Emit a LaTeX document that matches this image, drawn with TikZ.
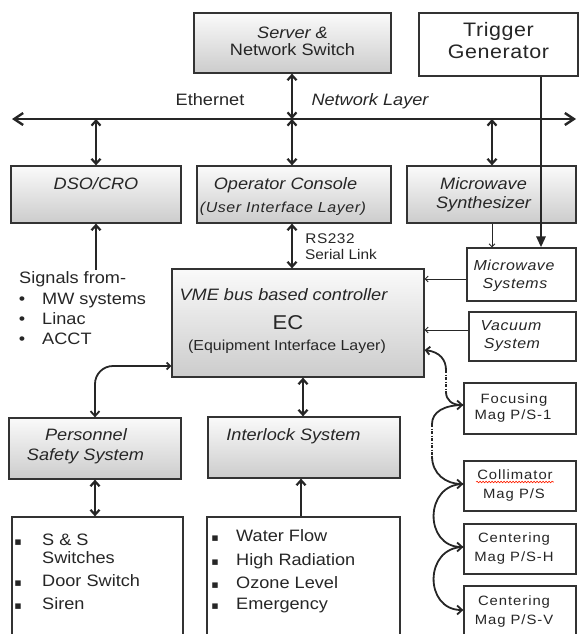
\documentclass[tikz,border=0pt]{standalone}
\usepackage{fontspec}
\setmainfont{Liberation Sans}[FakeStretch=1.1]
\newfontfamily\dejavu{DejaVu Sans}
\usetikzlibrary{arrows.meta,decorations.pathmorphing,calc}
\begin{document}
\begin{tikzpicture}[x=1pt,y=-1pt,
  >={Straight Barb[length=5pt,width=9pt]},
  gbox/.style={draw=black!80, line width=1.2pt, top color=gray!4, bottom color=gray!40, inner sep=0pt},
  wbox/.style={draw=black!80, line width=1.2pt, fill=white, inner sep=0pt},
  txt/.style={inner sep=1pt, anchor=base, text=black!85, font=\fontsize{16.5}{18}\selectfont},
  itxt/.style={txt, font=\fontsize{16.5}{18}\selectfont\itshape},
  stxt/.style={txt, font=\fontsize{14.5}{16}\selectfont},
  sitxt/.style={txt, font=\fontsize{14.5}{16}\selectfont\itshape\addfontfeature{LetterSpace=4}},
  rtxt/.style={txt, font=\fontsize{13.5}{15}\selectfont\addfontfeature{LetterSpace=7}},
  ltxt/.style={txt, anchor=base west},
  bul/.style={inner sep=0pt, anchor=base, text=black!85, font=\dejavu\fontsize{11}{12}\selectfont},
  dbl/.style={draw=black!85, line width=2.2pt, <->},
  sgl/.style={draw=black!85, line width=2.2pt, ->},
  thinarr/.style={draw=black!85, line width=0.9pt, -{Straight Barb[length=3pt,width=6pt]}},
  eth/.style={draw=black!85, line width=2.4pt, {Straight Barb[length=9pt,width=12pt]}-{Straight Barb[length=9pt,width=12pt]}},
  curv/.style={draw=black!85, line width=1.8pt},
  dotseg/.style={draw=black!85, line width=1.8pt, dash pattern=on 3pt off 1.5pt on 1pt off 1.5pt}
]
\useasboundingbox (0,0) rectangle (579,634);
\clip (0,0) rectangle (579,634);

% ---------- boxes ----------
\node[gbox, minimum width=197pt, minimum height=60pt] (server) at (292.5,43) {};
\node[wbox, minimum width=159pt, minimum height=63pt] (trigger) at (498.5,44.5) {};
\node[gbox, minimum width=170pt, minimum height=57pt] (dso) at (96,194.5) {};
\node[gbox, minimum width=194pt, minimum height=57pt] (operator) at (294,194.5) {};
\node[gbox, minimum width=169pt, minimum height=57pt] (mwsynth) at (491.5,194.5) {};
\node[gbox, minimum width=252pt, minimum height=108pt] (ec) at (298,323) {};
\node[wbox, minimum width=109pt, minimum height=53pt] (mwsys) at (521.5,274.5) {};
\node[wbox, minimum width=107pt, minimum height=49pt] (vacuum) at (522.5,336.5) {};
\node[gbox, minimum width=172pt, minimum height=61pt] (personnel) at (95,448.5) {};
\node[gbox, minimum width=192pt, minimum height=61pt] (interlock) at (304,447.5) {};
\node[wbox, minimum width=171pt, minimum height=133pt] (list1) at (97.5,583.5) {};
\node[wbox, minimum width=193pt, minimum height=133pt] (list2) at (303.5,583.5) {};
\node[wbox, minimum width=112pt, minimum height=51pt] (focusing) at (520,408.5) {};
\node[wbox, minimum width=112pt, minimum height=50pt] (collimator) at (520,486) {};
\node[wbox, minimum width=112pt, minimum height=50pt] (centh) at (520,549) {};
\node[wbox, minimum width=112pt, minimum height=64pt] (centv) at (520,618) {};

% ---------- texts ----------
\node[itxt] (t-server1) at (292.5,38) {Server \&};
\node[txt] (t-server2) at (292.5,56) {Network Switch};
\node[txt, font=\fontsize{19.5}{22}\selectfont\addfontfeature{LetterSpace=3}] (t-trig1) at (498.5,37) {Trigger};
\node[txt, font=\fontsize{19.5}{22}\selectfont\addfontfeature{LetterSpace=3}] (t-trig2) at (498.5,59) {Generator};
\node[txt] (t-eth) at (210,105) {Ethernet};
\node[itxt] (t-net) at (370,105) {Network Layer};
\node[itxt] (t-dso) at (96,189) {DSO/CRO};
\node[itxt] (t-op1) at (285.5,189) {Operator Console};
\node[sitxt] (t-op2) at (283,212) {(User Interface Layer)};
\node[itxt] (t-mws1) at (483.5,189) {Microwave};
\node[itxt] (t-mws2) at (483.5,208) {Synthesizer};
\node[txt, font=\fontsize{14}{15}\selectfont\addfontfeature{LetterSpace=4}] (t-rs1) at (330,243) {RS232};
\node[txt, font=\fontsize{14}{15}\selectfont] (t-rs2) at (341,259) {Serial Link};
\node[ltxt] (sig) at (18,283) {Signals from-};
\node[txt] (b1) at (22,304) {•};
\node[ltxt] (s1) at (41,304) {MW systems};
\node[txt] (b2) at (22,324) {•};
\node[ltxt] (s2) at (41,324) {Linac};
\node[txt] (b3) at (22,344) {•};
\node[ltxt] (s3) at (41,344) {ACCT};
\node[itxt] (t-ec1) at (283.5,300) {VME bus based controller};
\node[txt, font=\fontsize{20}{22}\selectfont] (t-ec2) at (288,329) {EC};
\node[stxt] (t-ec3) at (287,350) {(Equipment Interface Layer)};
\node[sitxt] (t-mwsys1) at (514,270) {Microwave};
\node[sitxt] (t-mwsys2) at (515,288) {Systems};
\node[sitxt] (t-vac1) at (511,330) {Vacuum};
\node[sitxt] (t-vac2) at (512,348) {System};
\node[itxt] (t-pers1) at (86,440) {Personnel};
\node[itxt] (t-pers2) at (85.5,460) {Safety System};
\node[itxt] (t-inter) at (293.5,440) {Interlock System};
% list 1
\node[bul] (l1b1) at (18,545) {▪};
\node[ltxt] (l1a) at (41,545) {S \& S};
\node[ltxt] (l1a2) at (41,563) {Switches};
\node[bul] (l1b2) at (18,586) {▪};
\node[ltxt] (l1b) at (41,586) {Door Switch};
\node[bul] (l1b3) at (18,609) {▪};
\node[ltxt] (l1c) at (41,609) {Siren};
% list 2
\node[bul] (l2b1) at (215,541) {▪};
\node[ltxt] (l2a) at (235,541) {Water Flow};
\node[bul] (l2b2) at (215,565) {▪};
\node[ltxt] (l2b) at (235,565) {High Radiation};
\node[bul] (l2b3) at (215,588) {▪};
\node[ltxt] (l2c) at (235,588) {Ozone Level};
\node[bul] (l2b4) at (215,609) {▪};
\node[ltxt] (l2d) at (235,609) {Emergency};
% right column
\node[rtxt] (t-foc1) at (514,403) {Focusing};
\node[rtxt] (t-foc2) at (513,419) {Mag P/S-1};
\node[rtxt] (t-col1) at (515,479) {Collimator};
\node[rtxt] (t-col2) at (514,498) {Mag P/S};
\node[rtxt] (t-ch1) at (514,542) {Centering};
\node[rtxt] (t-ch2) at (514,561) {Mag P/S-H};
\node[rtxt] (t-cv1) at (514,605) {Centering};
\node[rtxt] (t-cv2) at (514,624) {Mag P/S-V};
\draw[red!75!orange, line width=0.6pt, decorate, decoration={snake, amplitude=0.8pt, segment length=3pt}]
  ([yshift=-3pt]t-col1.base west) -- ([yshift=-3pt]t-col1.base east);

% ---------- connectors ----------
\coordinate (ethL) at (12,119);
\coordinate (ethR) at (576,119);
\draw[eth] (ethL) -- (ethR);
\draw[dbl] ([xshift=-0.5pt]server.south) -- ([xshift=-0.5pt]server.south |- ethL);
\draw[dbl] (dso.north |- ethL) -- (dso.north);
\draw[dbl] ([xshift=-2pt]operator.north |- ethL) -- ([xshift=-2pt]operator.north);
\draw[dbl] ([xshift=0.5pt]mwsynth.north |- ethL) -- ([xshift=0.5pt]mwsynth.north);
\draw[sgl] (dso.south |- sig.north) -- (dso.south);
\draw[dbl] ([xshift=-2pt]operator.south) -- ([xshift=-2pt]operator.south |- ec.north);
\draw[draw=black!85, line width=2.8pt, -{Triangle[length=11pt,width=9pt]}]
  ([xshift=42.5pt]trigger.south) -- ([xshift=42.5pt]trigger.south |- mwsys.north);
\draw[thinarr] ([xshift=0.5pt]mwsynth.south) -- ([xshift=0.5pt]mwsynth.south |- mwsys.north);
\draw[thinarr] ([yshift=-4.5pt]mwsys.west) -- ([yshift=-4.5pt]mwsys.west -| ec.east);
\draw[thinarr] ([yshift=6.5pt]vacuum.west) -- ([yshift=6.5pt]vacuum.west -| ec.east);
\draw[curv, rounded corners=18pt, {Straight Barb[length=3.5pt,width=7pt]}-{Straight Barb[length=5pt,width=9pt]}]
  ([yshift=-43pt]ec.west) -| (personnel.north);
\draw[dbl] ([xshift=-1pt]interlock.north |- ec.south) -- ([xshift=-1pt]interlock.north);
\draw[dbl] (personnel.south) -- (personnel.south |- list1.north);
\draw[sgl] ([xshift=-2.5pt]list2.north) -- ([xshift=-2.5pt]list2.north |- interlock.south);

% right-hand chain
\coordinate (c1) at (446,370);
\coordinate (c2) at (446,392);
\coordinate (c3) at (432,424);
\coordinate (c4) at (432,456);
\draw[curv, {Straight Barb[length=4pt,width=8pt]}-] ([yshift=-27pt]ec.east) .. controls (440,352) and (446,360) .. (c1);
\draw[dotseg] (c1) -- (c2);
\draw[curv, ->] (c2) .. controls (446,400) and (452,405) .. ([yshift=3.5pt]focusing.west);
\draw[curv] ([yshift=3.5pt]focusing.west) .. controls (444,405) and (432,412) .. (c3);
\draw[dotseg] (c3) -- (c4);
\draw[curv, ->] (c4) .. controls (432,474) and (446,484) .. ([yshift=2pt]collimator.west);
\draw[curv, ->] ([yshift=2pt]collimator.west) .. controls (424,484) and (424,547) .. ([yshift=2pt]centh.west);
\draw[curv, ->] ([yshift=2pt]centh.west) .. controls (424,547) and (424,610) .. ([yshift=8pt]centv.west);
\end{tikzpicture}
\end{document}
